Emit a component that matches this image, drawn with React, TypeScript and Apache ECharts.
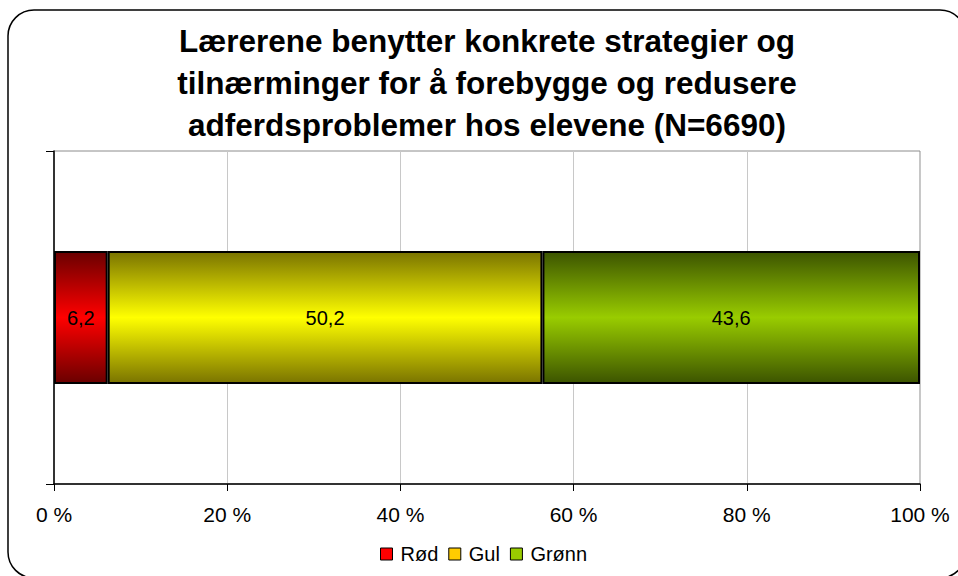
import React, { useEffect, useRef } from "react";
import * as echarts from "echarts";

const titleLines = [
  "Lærerene benytter konkrete strategier og",
  "tilnærminger for å forebygge og redusere",
  "adferdsproblemer hos elevene (N=6690)",
];
const categories = [""];
const seriesNames = ["Rød", "Gul", "Grønn"];
const redValues = [6.2];
const yellowValues = [50.2];
const greenValues = [43.6];
const xTicks = { min: 0, max: 100, interval: 20 };

const grad = (edge: string, mid: string) =>
  new echarts.graphic.LinearGradient(0, 0, 0, 1, [
    { offset: 0, color: edge },
    { offset: 0.5, color: mid },
    { offset: 1, color: edge },
  ]);

export default function App() {
  const ref = useRef<HTMLDivElement>(null);
  useEffect(() => {
    if (!ref.current) return;
    const chart = echarts.init(ref.current, null, { renderer: "svg" });
    const font = "Liberation Sans, Arial, sans-serif";
    const styles = [
      { fill: grad("#6a0000", "#ff0000"), legend: "#ff0000" },
      { fill: grad("#7a7400", "#ffff00"), legend: "#ffcc00" },
      { fill: grad("#3c5400", "#99cc00"), legend: "#99cc00" },
    ];
    const values = [redValues, yellowValues, greenValues];
    chart.setOption({
      animation: false,
      backgroundColor: "#ffffff",
      textStyle: { fontFamily: font },
      graphic: [
        {
          type: "rect",
          shape: { x: 8, y: 10, width: 958, height: 568, r: 26 },
          style: { fill: "none", stroke: "#000", lineWidth: 1.5 },
          z: -1,
        },
        {
          type: "text",
          x: 487,
          y: 20,
          style: {
            text: titleLines.join("\n"),
            fontFamily: font,
            fontSize: 31.5,
            fontWeight: "bold",
            lineHeight: 42,
            fill: "#000",
            align: "center",
            verticalAlign: "top",
          },
        },
      ],
      legend: {
        bottom: 12,
        left: 380,
        padding: 0,
        itemWidth: 12,
        itemHeight: 12,
        itemGap: 10,
        icon: "rect",
        textStyle: { fontSize: 20, color: "#000", fontFamily: font, padding: [0, 0, 0, 3] },
        itemStyle: { borderColor: "#000", borderWidth: 1 },
        data: seriesNames.map((n, i) => ({
          name: n,
          itemStyle: { color: styles[i].legend, borderColor: "#000", borderWidth: 1 },
        })),
      },
      grid: {
        left: 54,
        right: 38,
        top: 151,
        bottom: 92,
        show: true,
        borderColor: "#8c8c8c",
        borderWidth: 1,
      },
      xAxis: {
        type: "value",
        min: xTicks.min,
        max: xTicks.max,
        interval: xTicks.interval,
        axisLine: { show: true, lineStyle: { color: "#000", width: 1.5 } },
        axisTick: { show: true, length: 7, lineStyle: { color: "#000" } },
        splitLine: { show: true, lineStyle: { color: "#c8c8c8", width: 1 } },
        axisLabel: {
          formatter: "{value} %",
          fontSize: 21,
          color: "#000",
          margin: 20,
          fontFamily: font,
        },
      },
      yAxis: {
        type: "category",
        data: categories,
        axisLine: { show: true, lineStyle: { color: "#000", width: 1.5 } },
        axisTick: { show: true, length: 8, lineStyle: { color: "#000" } },
        axisLabel: { show: false },
      },
      series: seriesNames.map((n, i) => ({
        name: n,
        type: "bar",
        stack: "total",
        barWidth: "40%",
        data: values[i],
        itemStyle: {
          color: styles[i].fill,
          borderColor: "#000",
          borderWidth: 2,
        },
        label: {
          show: true,
          position: "inside",
          color: "#000",
          fontSize: 20,
          fontFamily: font,
          formatter: (p: any) => String(p.value).replace(".", ","),
        },
      })),
    });
    return () => chart.dispose();
  }, []);
  return (
    <div
      ref={ref}
      style={{ position: "fixed", left: 0, top: 0, width: 958, height: 576 }}
    />
  );
}
